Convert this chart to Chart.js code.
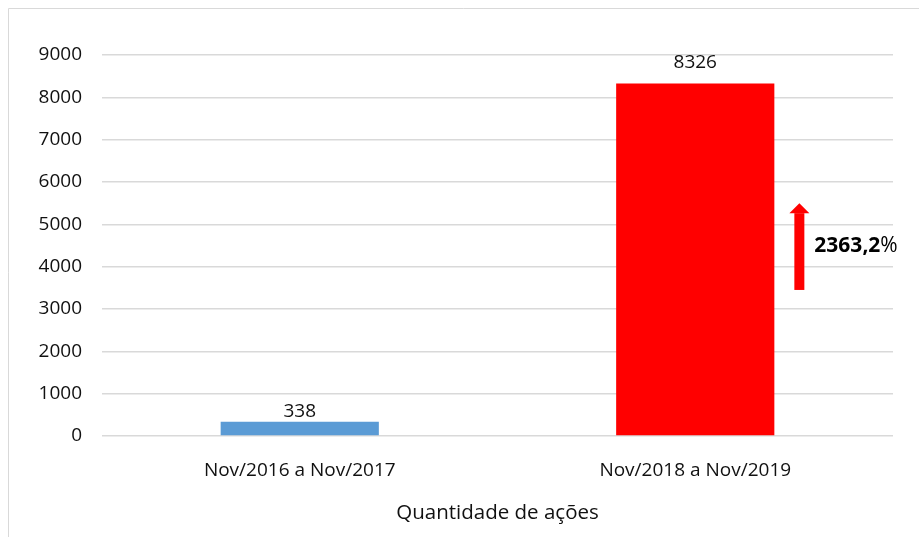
<!DOCTYPE html>
<html>
<head>
<meta charset="utf-8">
<script src="https://cdn.jsdelivr.net/npm/chart.js@4"></script>
<style>
  html, body { margin: 0; padding: 0; background: #fff; }
  #wrap { width: 919px; height: 537px; position: relative; }
</style>
</head>
<body>
<div id="wrap"><canvas id="acoesChart"></canvas></div>
<script>
const periodos = ['Nov/2016 a Nov/2017', 'Nov/2018 a Nov/2019'];
const quantidades = [338, 8326];
const coresBarras = ['#5b9bd5', '#ff0000'];
const yTicks = [0, 1000, 2000, 3000, 4000, 5000, 6000, 7000, 8000, 9000];
const variacao = '2363,2';
// arrow spans these y values
const setaInicio = 3450;
const setaFim = 5500;

const FONTE = "'Open Sans', 'Noto Sans', sans-serif";

// light frame on the top and left edge
const moldura = {
  id: 'moldura',
  beforeDraw(chart) {
    const ctx = chart.ctx;
    ctx.save();
    ctx.strokeStyle = '#d9d9d9';
    ctx.lineWidth = 1;
    ctx.beginPath();
    ctx.moveTo(8.5, chart.height);
    ctx.lineTo(8.5, 8.5);
    ctx.lineTo(chart.width, 8.5);
    ctx.stroke();
    ctx.restore();
  }
};

// value labels above bars, plus the growth arrow
const rotulos = {
  id: 'rotulos',
  afterDatasetsDraw(chart) {
    const ctx = chart.ctx;
    const meta = chart.getDatasetMeta(0);
    ctx.save();
    ctx.font = '19px ' + FONTE;
    ctx.fillStyle = '#111';
    ctx.textAlign = 'center';
    ctx.textBaseline = 'bottom';
    meta.data.forEach((bar, i) => {
      const gap = i === 0 ? 1 : 11;
      ctx.fillText(quantidades[i], bar.x, bar.y - gap);
    });

    const y = chart.scales.y;
    const ultima = meta.data[meta.data.length - 1];
    const ax = ultima.x + ultima.width / 2 + 25;
    const yBase = y.getPixelForValue(setaInicio);
    const yTopo = y.getPixelForValue(setaFim);
    ctx.fillStyle = '#ff0000';
    ctx.fillRect(ax - 5, yTopo + 10, 10, yBase - yTopo - 10);
    ctx.beginPath();
    ctx.moveTo(ax - 10, yTopo + 10);
    ctx.lineTo(ax, yTopo);
    ctx.lineTo(ax + 10, yTopo + 10);
    ctx.closePath();
    ctx.fill();

    const yMeio = y.getPixelForValue(4480);
    ctx.fillStyle = '#000';
    ctx.textAlign = 'left';
    ctx.textBaseline = 'middle';
    ctx.font = 'bold 21px ' + FONTE;
    const tx = ax + 15;
    ctx.fillText(variacao, tx, yMeio);
    const w = ctx.measureText(variacao).width;
    ctx.font = '21px ' + FONTE;
    ctx.fillText('%', tx + w, yMeio);
    ctx.restore();
  }
};

new Chart(document.getElementById('acoesChart'), {
  type: 'bar',
  data: {
    labels: periodos,
    datasets: [{
      data: quantidades,
      backgroundColor: coresBarras,
      barPercentage: 0.4,
      categoryPercentage: 1
    }]
  },
  options: {
    responsive: true,
    maintainAspectRatio: false,
    animation: false,
    layout: { padding: { top: 55, right: 26, bottom: 8, left: 0 } },
    plugins: {
      legend: { display: false },
      tooltip: { enabled: false }
    },
    scales: {
      x: {
        grid: { display: false },
        border: { display: false },
        ticks: { color: '#111', padding: 15, font: { family: FONTE, size: 19 } },
        title: {
          display: true,
          text: 'Quantidade de ações',
          color: '#111',
          font: { family: FONTE, size: 20.5 }
        },
        afterFit(scale) { scale.height = 93; }
      },
      y: {
        min: 0,
        max: 9000,
        afterBuildTicks(scale) { scale.ticks = yTicks.map(v => ({ value: v })); },
        grid: { color: '#d9d9d9', lineWidth: 1.5, drawTicks: false },
        border: { display: false },
        ticks: {
          color: '#111',
          padding: 20,
          font: { family: FONTE, size: 19 },
          callback: v => String(v)
        },
        afterFit(scale) { scale.width = 102; }
      }
    }
  },
  plugins: [moldura, rotulos]
});
</script>
</body>
</html>
